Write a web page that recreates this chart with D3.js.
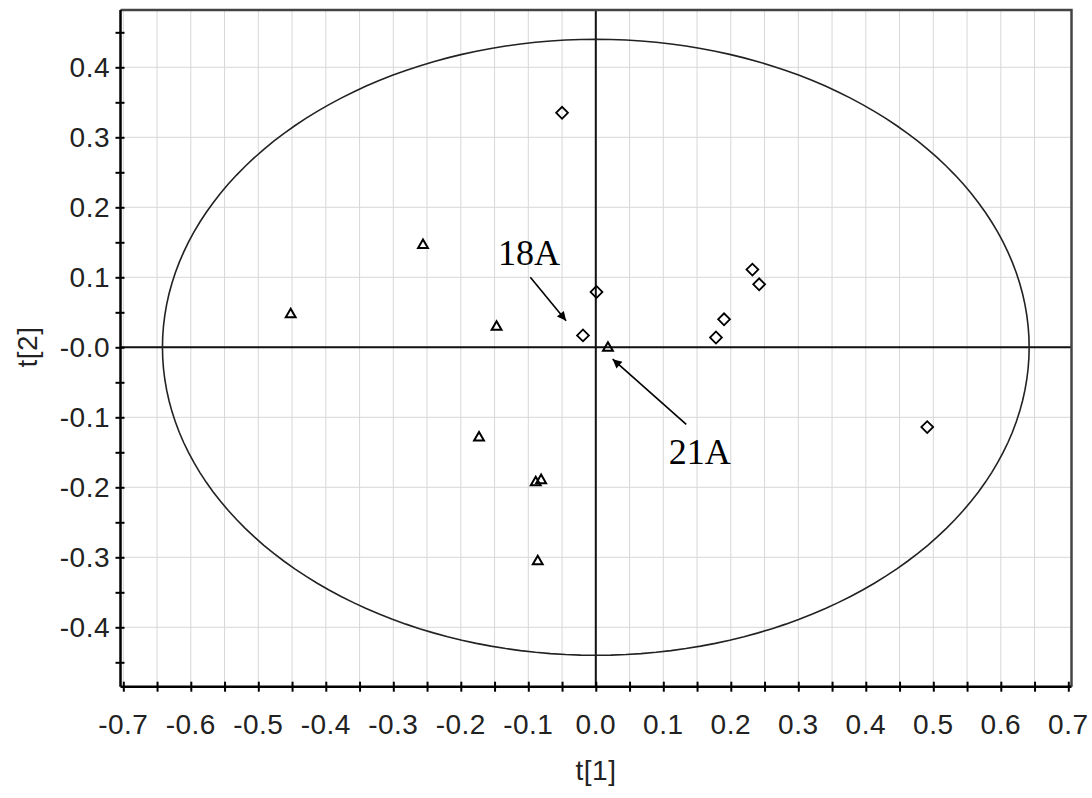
<!DOCTYPE html>
<html>
<head>
<meta charset="utf-8">
<script src="https://cdn.jsdelivr.net/npm/d3@7"></script>
<style>
    body { margin: 0; background: #fff; }
    .tick-label { font-family: "Liberation Sans", Arial, sans-serif; font-size: 28px; fill: #222; letter-spacing: 0.5px; }
    .note { font-family: "Liberation Serif", "Times New Roman", serif; font-size: 36px; fill: #000; }
</style>
</head>
<body>
<svg id="chart" width="1092" height="798"></svg>
<script>
// Score values: t[1] and t[2] for each group.
const triangleT1 = [-0.452, -0.256, -0.147, -0.173, -0.089, -0.081, -0.086, 0.018];
const triangleT2 = [0.047, 0.146, 0.029, -0.129, -0.193, -0.190, -0.306, -0.001];
const diamondT1 = [-0.050, 0.001, -0.019, 0.232, 0.242, 0.190, 0.178, 0.491];
const diamondT2 = [0.335, 0.079, 0.017, 0.111, 0.090, 0.040, 0.014, -0.114];

// Hotelling ellipse radii (in score units).
const ellipseRadii = [0.642, 0.44];

// Tick values and their labels.
const xTicks = [-0.7, -0.6, -0.5, -0.4, -0.3, -0.2, -0.1, 0.0, 0.1, 0.2, 0.3, 0.4, 0.5, 0.6, 0.7];
const xTickLabels = ['-0.7', '-0.6', '-0.5', '-0.4', '-0.3', '-0.2', '-0.1', '0.0', '0.1', '0.2', '0.3', '0.4', '0.5', '0.6', '0.7'];
const yTicks = [-0.4, -0.3, -0.2, -0.1, 0.0, 0.1, 0.2, 0.3, 0.4];
const yTickLabels = ['-0.4', '-0.3', '-0.2', '-0.1', '-0.0', '0.1', '0.2', '0.3', '0.4'];
const xMinorTicks = d3.range(-14, 15).map(i => i * 0.05);
const yMinorTicks = d3.range(-9, 10).map(i => i * 0.05);

// Annotations: label, text position, arrow start, arrow end.
const noteLabels = ['18A', '21A'];
const noteText = [[-0.145, 0.118], [0.108, -0.166]];
const noteFrom = [[-0.097, 0.100], [0.134, -0.110]];
const noteTo = [[-0.044, 0.038], [0.025, -0.017]];

let svg = d3.select('#chart');

let x = d3.scaleLinear().domain([-0.7, 0.7]).range([123.3, 1068.3]);
let y = d3.scaleLinear().domain([0, 0.4]).range([347.3, 67.3]);

// Plot frame edges in data space.
let xMin = x.invert(120.5), xMax = x.invert(1071.5);
let yMin = y.invert(686.7), yMax = y.invert(10);

// Grid lines: vertical every 0.05, horizontal every 0.1.
let grid = svg.append('g').attr('id', 'g-grid')
    .attr('stroke', '#d8d8d8').attr('stroke-width', 1);
grid.selectAll('line.v')
    .data(xMinorTicks.filter(d => d > xMin && d < xMax - 0.01))
    .join('line').attr('class', 'v')
    .attr('x1', d => x(d)).attr('x2', d => x(d))
    .attr('y1', y(yMin)).attr('y2', y(yMax));
grid.selectAll('line.h')
    .data(yTicks)
    .join('line').attr('class', 'h')
    .attr('x1', x(xMin)).attr('x2', x(xMax))
    .attr('y1', d => y(d)).attr('y2', d => y(d));

// Zero lines.
svg.append('line')
    .attr('x1', x(0)).attr('x2', x(0)).attr('y1', y(yMin)).attr('y2', y(yMax))
    .attr('stroke', '#111').attr('stroke-width', 2);
svg.append('line')
    .attr('x1', x(xMin)).attr('x2', x(xMax)).attr('y1', y(0)).attr('y2', y(0))
    .attr('stroke', '#111').attr('stroke-width', 2);

// Ellipse.
let ellipsePts = d3.range(0, 361, 2).map(a => {
    let t = a * Math.PI / 180;
    return [ellipseRadii[0] * Math.cos(t), ellipseRadii[1] * Math.sin(t)];
});
svg.append('path')
    .attr('d', d3.line().x(d => x(d[0])).y(d => y(d[1]))(ellipsePts))
    .attr('fill', 'none').attr('stroke', '#222').attr('stroke-width', 1.6);

// Frame: top and right.
svg.append('path')
    .attr('d', `M${x(xMin)},${y(yMax)}H${x(xMax)}V${y(yMin)}`)
    .attr('fill', 'none').attr('stroke', '#444').attr('stroke-width', 2.5);

// Axes (ticks only; labels drawn separately with plain hyphens).
let xAxis = d3.axisBottom(x).tickValues(xMinorTicks).tickSize(5).tickFormat('');
let gx = svg.append('g').attr('transform', `translate(0,${y(yMin)})`).call(xAxis);
gx.select('.domain').attr('d', `M${x(xMin)},0H${x(xMax)}`).attr('stroke', '#000').attr('stroke-width', 2.5);
gx.selectAll('.tick line').attr('y1', -5).attr('stroke', '#000').attr('stroke-width', 2);

let yAxis = d3.axisLeft(y).tickValues(yMinorTicks).tickSize(5).tickFormat('');
let gy = svg.append('g').attr('transform', `translate(${x(xMin)},0)`).call(yAxis);
gy.select('.domain').attr('d', `M0,${y(yMin)}V${y(yMax)}`).attr('stroke', '#000').attr('stroke-width', 2.5);
gy.selectAll('.tick line').attr('x1', 4).attr('stroke', '#000').attr('stroke-width', 2);

// Tick labels.
svg.append('g').selectAll('text')
    .data(xTicks).join('text')
    .attr('class', 'tick-label')
    .attr('x', d => x(d)).attr('y', 734)
    .attr('text-anchor', 'middle')
    .text((d, i) => xTickLabels[i]);
svg.append('g').selectAll('text')
    .data(yTicks).join('text')
    .attr('class', 'tick-label')
    .attr('x', 110).attr('y', d => y(d) + 10)
    .attr('text-anchor', 'end')
    .text((d, i) => yTickLabels[i]);

// Axis titles.
svg.append('text').attr('class', 'tick-label')
    .attr('x', 596).attr('y', 780).attr('text-anchor', 'middle').text('t[1]');
svg.append('text').attr('class', 'tick-label')
    .attr('transform', 'translate(37,347) rotate(-90)')
    .attr('text-anchor', 'middle').text('t[2]');

// Points.
let triangles = triangleT1.map((d, i) => [d, triangleT2[i]]);
let diamonds = diamondT1.map((d, i) => [d, diamondT2[i]]);

svg.append('g').selectAll('path')
    .data(triangles).join('path')
    .attr('d', d3.symbol().type(d3.symbolTriangle).size(42))
    .attr('transform', d => `translate(${x(d[0])},${y(d[1])})`)
    .attr('fill', 'none').attr('stroke', '#000').attr('stroke-width', 2);

svg.append('g').selectAll('path')
    .data(diamonds).join('path')
    .attr('d', d3.symbol().type(d3.symbolSquare).size(70))
    .attr('transform', d => `translate(${x(d[0])},${y(d[1])}) rotate(45)`)
    .attr('fill', 'none').attr('stroke', '#000').attr('stroke-width', 1.8);

// Annotations.
svg.append('defs').append('marker')
    .attr('id', 'arrow').attr('viewBox', '0 0 10 10')
    .attr('refX', 10).attr('refY', 5)
    .attr('markerWidth', 12).attr('markerHeight', 9)
    .attr('markerUnits', 'userSpaceOnUse')
    .attr('orient', 'auto')
    .append('path').attr('d', 'M0,0L10,5L0,10Z').attr('fill', '#000');

let notes = svg.append('g');
notes.selectAll('line')
    .data(noteLabels).join('line')
    .attr('x1', (d, i) => x(noteFrom[i][0])).attr('y1', (d, i) => y(noteFrom[i][1]))
    .attr('x2', (d, i) => x(noteTo[i][0])).attr('y2', (d, i) => y(noteTo[i][1]))
    .attr('stroke', '#000').attr('stroke-width', 1.6)
    .attr('marker-end', 'url(#arrow)');
notes.selectAll('text')
    .data(noteLabels).join('text')
    .attr('class', 'note')
    .attr('x', (d, i) => x(noteText[i][0])).attr('y', (d, i) => y(noteText[i][1]))
    .text(d => d);
</script>
</body>
</html>
